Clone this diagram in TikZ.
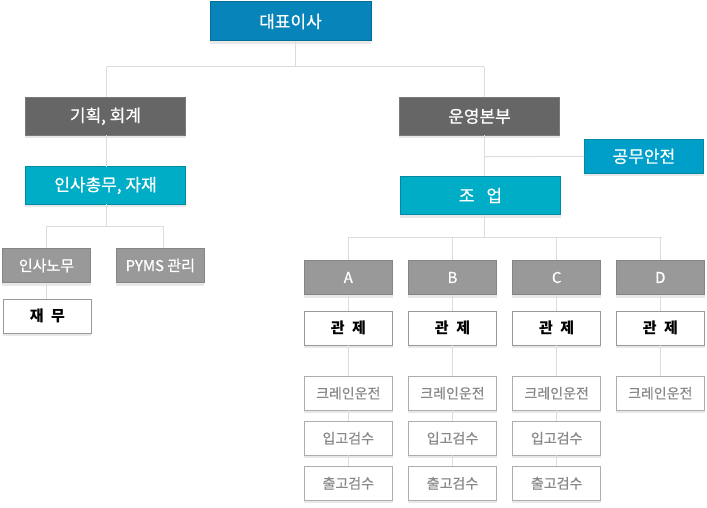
\documentclass[tikz,border=0pt]{standalone}
\usepackage{fontspec}
\setmainfont{Noto Sans CJK KR}
\newfontfamily\medfont{Noto Sans CJK KR}[FakeBold=0.6]
\usetikzlibrary{shadows}
\definecolor{cblue}{HTML}{0784B9}
\definecolor{cblueb}{HTML}{056D98}
\definecolor{ccyan}{HTML}{00ADC6}
\definecolor{ccyanb}{HTML}{0089A3}
\definecolor{csafe}{HTML}{009FC9}
\definecolor{cdark}{HTML}{666666}
\definecolor{cdarkb}{HTML}{7A7A7A}
\definecolor{cmid}{HTML}{999999}
\definecolor{cmidb}{HTML}{858585}
\definecolor{cline}{HTML}{DCDCDC}
\definecolor{cshadow}{HTML}{E8E8E8}
\definecolor{ctext}{HTML}{888888}
\tikzset{
  box/.style={rectangle, inner sep=0pt, outer sep=0pt, line width=1pt,
    general shadow={fill=cshadow, shadow yshift=-3pt}},
  bluebox/.style={box, fill=cblue, draw=cblueb, text=white, font=\medfont\fontsize{17}{20}\selectfont, minimum width=161, minimum height=39},
  cyanbox/.style={box, fill=ccyan, draw=ccyanb, text=white, font=\medfont\fontsize{17}{20}\selectfont},
  darkbox/.style={box, fill=cdark, draw=cdarkb, text=white, font=\medfont\fontsize{17}{20}\selectfont},
  greybox/.style={box, fill=cmid, draw=cmidb, text=white, font=\medfont\fontsize{15}{18}\selectfont, minimum width=88.5, minimum height=34.5},
  ctrlbox/.style={box, fill=white, draw=cmid, text=black, font=\fontsize{15}{18}\selectfont\bfseries, minimum width=88.5, minimum height=34},
  taskbox/.style={box, fill=white, draw=cmid!80, text=ctext, font=\medfont\fontsize{14}{16}\selectfont, minimum width=88.5, minimum height=34},
  conn/.style={draw=cline, line width=1pt}
}
\begin{document}
\begin{tikzpicture}[x=1pt,y=-1pt]
\useasboundingbox (0,0) rectangle (707,508);
\coordinate (j0) at (295,67);
\coordinate (jl) at (106.5,67);
\coordinate (jr) at (484,67);
\coordinate (j1) at (106.5,226);
\coordinate (j1a) at (46.5,226);
\coordinate (j1b) at (163,226);
\coordinate (j2) at (484,156.7);
\coordinate (j3) at (484,237.3);
\coordinate (j3a) at (348.3,237.3);
\coordinate (j3d) at (661.5,237.3);

% nodes
\node[bluebox] (ceo) at (290.5,21.5) {대표이사};
\node[darkbox, minimum width=160.4, minimum height=38] (plan) at (105.5,116.3) {기획, 회계};
\node[cyanbox, minimum width=160.4, minimum height=37.6] (hr) at (105.5,185.5) {인사총무, 자재};
\node[greybox] (labor) at (46.5,265.5) {인사노무};
\node[greybox, minimum width=88] (pyms) at (160.3,265.5) {PYMS 관리};
\node[ctrlbox, minimum width=88] (fin) at (47.3,316.3) {재\hspace{0.5em}무};
\node[darkbox, minimum width=160.4, minimum height=38] (ops) at (479.5,116.3) {운영본부};
\node[cyanbox, fill=csafe, minimum width=119.7, minimum height=34] (safe) at (643.9,156.3) {공무안전};
\node[cyanbox, minimum width=160.4, minimum height=38.4] (work) at (480.5,195.5) {조\hspace{0.7em}업};

\foreach \n/\x in {A/348.3,B/452.5,C/556.7,D/660.3}{
  \node[greybox] (\n) at (\x,277.5) {\n};
  \node[ctrlbox] (\n1) at (\x,328.3) {관\hspace{0.5em}제};
  \node[taskbox] (\n2) at (\x,393.3) {크레인운전};
}
\foreach \n/\x in {A/348.3,B/452.5,C/556.7}{
  \node[taskbox] (\n3) at (\x,438.3) {입고검수};
  \node[taskbox] (\n4) at (\x,483.3) {출고검수};
}

% connector lines
\draw[conn] (ceo.south -| j0) -- (j0);
\draw[conn] (jl) -- (jr);
\draw[conn] (jl) -- (plan.north -| jl);
\draw[conn] (jr) -- (ops.north -| jr);
\draw[conn] (plan.south -| jl) -- (hr.north -| jl);
\draw[conn] (hr.south -| j1) -- (j1);
\draw[conn] (j1a) -- (j1b);
\draw[conn] (j1a) -- (labor.north);
\draw[conn] (j1b) -- (pyms.north -| j1b);
\draw[conn] (labor.south) -- (fin.north -| labor.south);
\draw[conn] (ops.south -| jr) -- (work.north -| jr);
\draw[conn] (j2) -- (safe.west);
\draw[conn] (work.south -| j3) -- (j3);
\draw[conn] (j3a) -- (j3d);
\foreach \n in {A,B,C,D}{
  \draw[conn] (j3a -| \n) -- (\n.north);
  \draw[conn] (\n.south) -- (\n1.north);
  \draw[conn] (\n1.south) -- (\n2.north);
}
\foreach \n in {A,B,C}{
  \draw[conn] (\n2.south) -- (\n3.north);
  \draw[conn] (\n3.south) -- (\n4.north);
}
\end{tikzpicture}
\end{document}
